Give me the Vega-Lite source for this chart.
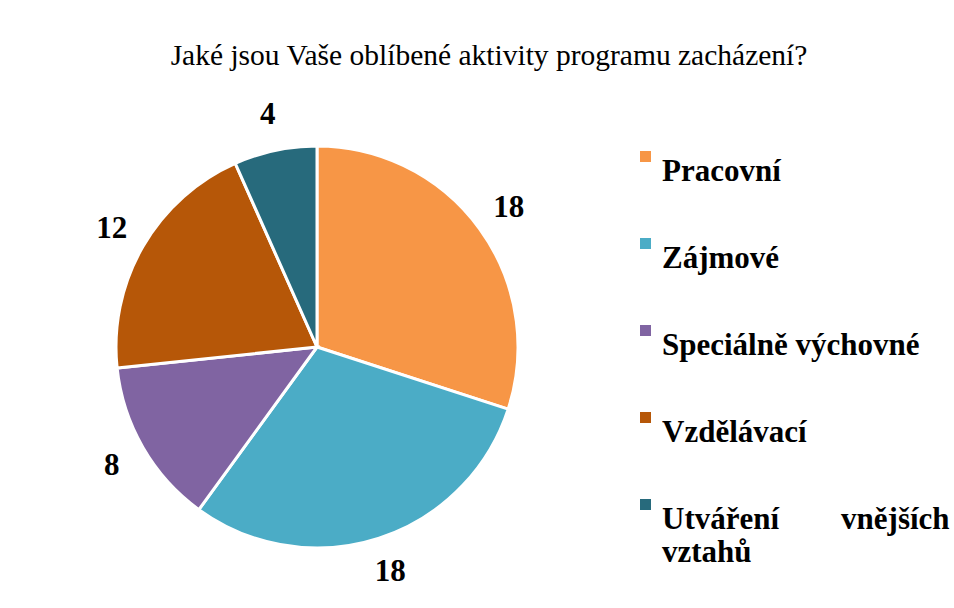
{
  "$schema": "https://vega.github.io/schema/vega-lite/v6.json",
  "width": 400,
  "height": 400,
  "autosize": {"type": "none"},
  "padding": {"left": 117, "top": 147, "right": 437, "bottom": 61},
  "background": "white",
  "title": {
    "text": "Jaké jsou Vaše oblíbené aktivity programu zacházení?",
    "font": "Liberation Serif",
    "fontSize": 29.5,
    "fontWeight": "normal",
    "color": "#000000",
    "anchor": "middle",
    "dx": 172,
    "offset": 28
  },
  "data": {
    "values": [
      {"aktivita": "Pracovní", "pocet": 18, "poradi": 1},
      {"aktivita": "Zájmové", "pocet": 18, "poradi": 2},
      {"aktivita": "Speciálně výchovné", "pocet": 8, "poradi": 3},
      {"aktivita": "Vzdělávací", "pocet": 12, "poradi": 4},
      {"aktivita": "Utváření vnějších vztahů", "pocet": 4, "poradi": 5}
    ]
  },
  "encoding": {
    "theta": {"field": "pocet", "type": "quantitative", "stack": true},
    "order": {"field": "poradi", "type": "quantitative"},
    "color": {
      "field": "aktivita",
      "type": "nominal",
      "sort": ["Pracovní", "Zájmové", "Speciálně výchovné", "Vzdělávací", "Utváření vnějších vztahů"],
      "scale": {
        "domain": ["Pracovní", "Zájmové", "Speciálně výchovné", "Vzdělávací", "Utváření vnějších vztahů"],
        "range": ["#F79646", "#4BACC6", "#8064A2", "#B65708", "#276A7C"]
      },
      "legend": {
        "title": null,
        "orient": "none",
        "legendX": 513,
        "legendY": -6,
        "padding": 0,
        "symbolType": "square",
        "symbolSize": 121,
        "symbolStrokeWidth": 0,
        "symbolOpacity": 1,
        "labelFont": "Liberation Serif",
        "labelFontSize": 31,
        "labelFontWeight": "bold",
        "labelColor": "#000000",
        "labelBaseline": "top",
        "labelOffset": 1,
        "labelLimit": 400,
        "rowPadding": 41,
        "labelExpr": "datum.label == 'Utváření vnějších vztahů' ? ['Utváření\u00a0\u00a0\u00a0\u00a0\u00a0\u00a0\u00a0\u00a0vnějších', '\u00a0', 'vztahů'] : datum.label"
      }
    }
  },
  "layer": [
    {
      "mark": {"type": "arc", "stroke": "white", "strokeWidth": 3, "outerRadius": 201}
    },
    {
      "mark": {
        "type": "text",
        "radius": 237,
        "font": "Liberation Serif",
        "fontSize": 31,
        "fontWeight": "bold",
        "color": "#000000",
        "align": "center",
        "baseline": "middle"
      },
      "encoding": {
        "text": {"field": "pocet", "type": "quantitative"},
        "color": {"value": "#000000"}
      }
    }
  ],
  "config": {
    "view": {"stroke": null},
    "legend": {"labelFont": "Liberation Serif", "labelFontWeight": "bold", "labelFontSize": 31}
  }
}
